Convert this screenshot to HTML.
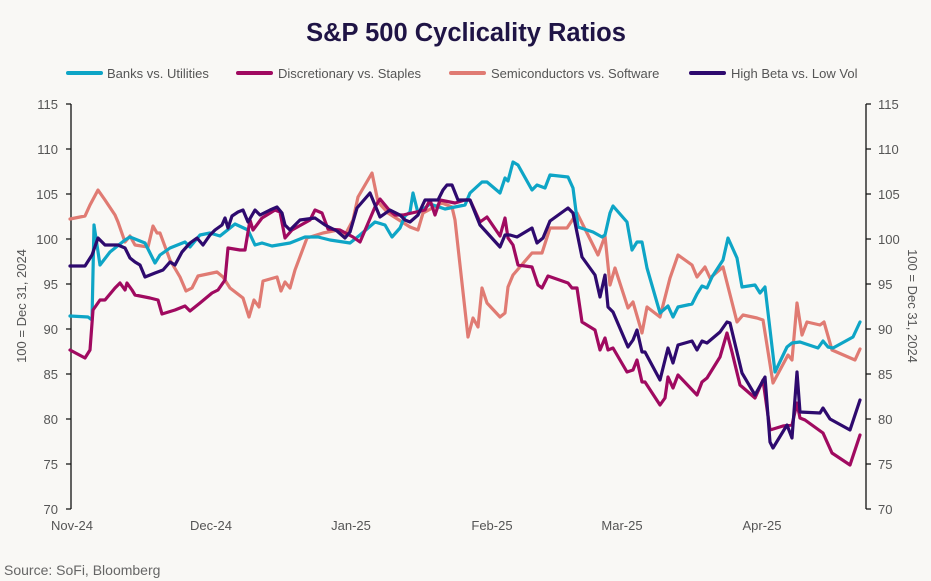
<!DOCTYPE html><html><head><meta charset="utf-8"><style>body{margin:0;background:#f9f8f5}svg{display:block}text{font-family:"Liberation Sans",sans-serif}</style></head><body>
<svg width="931" height="581" viewBox="0 0 931 581">
<rect width="931" height="581" fill="#f9f8f5"/>
<text x="466" y="41" text-anchor="middle" font-size="25.5" font-weight="bold" fill="#1f1445">S&amp;P 500 Cyclicality Ratios</text>
<g font-size="13" fill="#555">
<line x1="68" y1="73" x2="101" y2="73" stroke="#0ea5c6" stroke-width="4" stroke-linecap="round"/><text x="107" y="78">Banks vs. Utilities</text>
<line x1="238" y1="73" x2="271" y2="73" stroke="#a00a60" stroke-width="4" stroke-linecap="round"/><text x="278" y="78">Discretionary vs. Staples</text>
<line x1="451" y1="73" x2="484" y2="73" stroke="#e07b73" stroke-width="4" stroke-linecap="round"/><text x="491" y="78">Semiconductors vs. Software</text>
<line x1="691" y1="73" x2="724" y2="73" stroke="#2e0a6e" stroke-width="4" stroke-linecap="round"/><text x="731" y="78">High Beta vs. Low Vol</text>
</g>
<g stroke="#111" stroke-width="1.3">
<line x1="71" y1="104" x2="71" y2="509"/><line x1="866" y1="104" x2="866" y2="509"/>
<path d="M66 104H71M66 149H71M66 194H71M66 239H71M66 284H71M66 329H71M66 374H71M66 419H71M66 464H71M66 509H71M866 104H871M866 149H871M866 194H871M866 239H871M866 284H871M866 329H871M866 374H871M866 419H871M866 464H871M866 509H871"/>
</g>
<g font-size="13" fill="#555">
<g text-anchor="end"><text x="58" y="109">115</text><text x="58" y="154">110</text><text x="58" y="199">105</text><text x="58" y="244">100</text><text x="58" y="289">95</text><text x="58" y="334">90</text><text x="58" y="379">85</text><text x="58" y="424">80</text><text x="58" y="469">75</text><text x="58" y="514">70</text></g>
<g><text x="878" y="109">115</text><text x="878" y="154">110</text><text x="878" y="199">105</text><text x="878" y="244">100</text><text x="878" y="289">95</text><text x="878" y="334">90</text><text x="878" y="379">85</text><text x="878" y="424">80</text><text x="878" y="469">75</text><text x="878" y="514">70</text></g>
<g text-anchor="middle"><text x="72" y="530">Nov-24</text><text x="211" y="530">Dec-24</text><text x="351" y="530">Jan-25</text><text x="492" y="530">Feb-25</text><text x="622" y="530">Mar-25</text><text x="762" y="530">Apr-25</text></g>
<text transform="translate(26,306) rotate(-90)" text-anchor="middle">100 = Dec 31, 2024</text>
<text transform="translate(908,306) rotate(90)" text-anchor="middle">100 = Dec 31, 2024</text>
<text x="4" y="575" font-size="14" fill="#666">Source: SoFi, Bloomberg</text>
</g>
<g fill="none" stroke-width="3.2" stroke-linejoin="round" stroke-linecap="round">
<polyline stroke="#e07b73" points="70,219 85,216 90,205 98,190 105,200 115,215 118,222 125,242 130,236 135,245 148,247 153,226 157,233 160,233 170,260 180,277 186,291 192,288 198,276 217,272 223,277 230,288 243,298 249,317 254,300 259,307 263,281 277,277 281,291 285,282 290,288 295,270 307,238 323,233 338,230 345,235 353,220 358,197 372,173 378,202 388,213 410,227 418,230 423,213 442,203 452,207 455,220 468,337 473,318 478,327 482,288 487,303 500,317 505,313 508,287 513,275 532,253 542,253 550,228 567,228 577,213 598,255 605,236 610,285 615,268 628,308 633,302 642,333 647,307 660,317 670,278 678,255 692,265 697,277 705,267 710,278 723,267 737,322 743,315 757,318 763,320 773,383 788,355 792,360 797,303 802,335 807,322 820,325 824,322 832,350 855,360 860,349"/>
<polyline stroke="#0ea5c6" points="70,316 88,317 92,320 94,225 100,265 110,252 125,240 130,237 145,243 150,253 155,263 160,255 170,248 185,242 190,247 200,235 210,233 220,236 235,224 248,230 255,245 262,243 272,246 290,243 305,237 318,237 330,240 350,243 360,235 375,222 385,225 392,237 400,228 405,216 410,212 413,193 418,213 430,204 445,209 455,207 465,205 470,193 482,182 487,182 500,193 505,178 508,181 513,162 518,165 532,190 537,185 545,188 550,175 568,177 573,188 578,227 593,232 602,237 605,235 610,213 613,206 627,222 632,250 637,242 642,242 647,268 660,313 668,306 673,317 678,307 692,304 697,294 702,286 707,288 712,277 723,260 728,238 737,258 742,287 755,285 760,293 765,287 775,372 787,347 792,343 800,342 818,348 823,341 828,347 833,348 853,337 860,322"/>
<polyline stroke="#a00a60" points="70,350 85,358 90,350 93,310 100,300 105,300 115,288 120,283 125,290 127,283 132,290 135,295 150,298 158,300 162,314 175,310 185,306 190,311 200,303 212,293 218,290 225,280 228,248 240,250 245,250 250,220 253,230 262,218 275,210 280,212 285,238 292,230 310,220 315,210 322,213 328,229 340,230 353,237 360,242 375,207 380,199 390,211 395,215 403,215 425,210 430,200 435,215 440,200 455,203 465,200 470,200 480,222 487,217 500,236 505,218 508,238 513,245 518,265 532,267 538,285 542,288 548,276 568,283 572,288 577,288 582,322 595,330 600,350 605,338 608,350 613,348 627,372 633,370 637,360 642,382 645,382 660,405 665,398 668,377 673,388 678,375 697,395 702,382 707,378 720,357 727,333 732,352 740,385 755,398 763,380 770,430 783,426 792,425 797,403 800,418 805,420 823,433 832,453 850,465 860,435"/>
<polyline stroke="#2e0a6e" points="70,266 85,266 92,255 98,238 105,245 118,245 125,248 130,258 135,262 140,265 145,277 155,273 163,270 170,262 175,265 182,252 190,243 197,238 203,245 210,235 215,230 222,225 225,218 228,228 232,216 238,212 243,210 248,222 255,210 260,215 270,210 277,207 282,213 285,225 290,230 300,220 315,218 325,225 337,231 345,238 350,232 357,208 370,193 380,217 390,210 400,215 405,220 410,222 418,215 425,200 438,200 443,190 447,185 452,185 458,200 470,200 480,225 500,247 505,235 510,235 517,237 532,228 537,243 543,238 550,221 568,208 573,213 582,257 595,275 600,297 605,275 608,307 613,312 628,347 633,340 637,330 642,352 645,352 660,380 668,348 673,363 678,345 692,341 697,350 702,341 707,343 720,332 727,322 730,323 742,373 755,395 765,377 770,442 773,448 787,425 792,438 797,372 800,412 820,413 823,408 830,419 850,430 860,400"/>
</g>
</svg>
</body></html>
